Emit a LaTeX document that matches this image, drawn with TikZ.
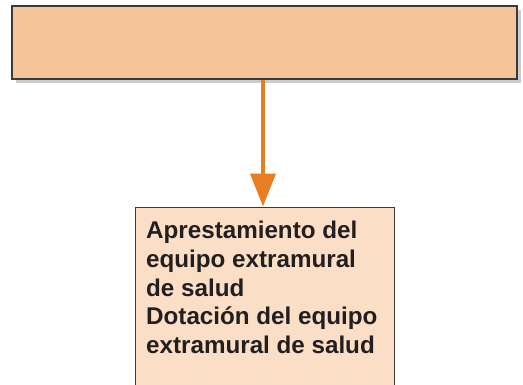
\documentclass[tikz,border=0pt]{standalone}
\usepackage{fontspec}
\setmainfont{Liberation Sans}
\usetikzlibrary{arrows.meta,shadows}
\definecolor{naranja}{HTML}{E87D22}
\definecolor{melocoton}{HTML}{F6C49A}
\definecolor{crema}{HTML}{FADEC5}
\definecolor{borde}{HTML}{3A3A3A}
\definecolor{tinta}{HTML}{231F20}
\tikzset{
  caja/.style={draw=borde, line width=1.2pt, inner sep=0pt},
  flecha/.style={naranja, line width=4pt, -{Triangle[length=33pt,width=25pt]}},
  texto/.style={font=\fontsize{24.2}{28.7}\selectfont\bfseries, text=tinta, align=left, inner sep=0pt}
}
\begin{document}
\begin{tikzpicture}[x=1pt,y=-1pt]
    \useasboundingbox (0,0) rectangle (523,384);
    % caja superior con sombra
    \node[caja, fill=melocoton, minimum width=505pt, minimum height=73pt,
          drop shadow={shadow xshift=4pt, shadow yshift=-4pt, fill=black!20, opacity=1}]
          (tope) at (264.5,42.5) {};
    % caja inferior (cortada abajo)
    \node[caja, line width=1pt, fill=crema, minimum width=259pt, minimum height=181pt]
          (base) at (264.5,297.5) {};
    \node[texto, anchor=north west] (lista) at (146,221)
          {Aprestamiento del\\equipo extramural\\de salud\\Dotación del equipo\\extramural de salud};
    % conector
    \draw[flecha] (tope.south -| 263,0) -- (base.north -| 263,0);
\end{tikzpicture}
\end{document}
